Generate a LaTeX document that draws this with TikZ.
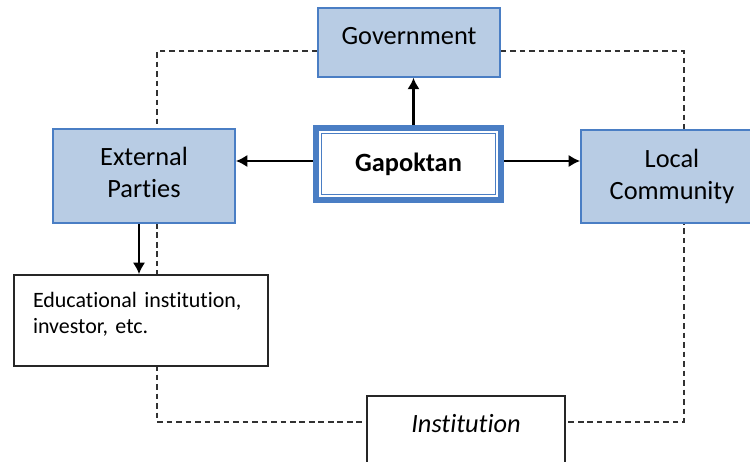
\documentclass[tikz,border=0pt]{standalone}
\usepackage{fontspec}
\setmainfont{Carlito}[Ligatures=NoCommon]
\usetikzlibrary{arrows.meta,positioning,backgrounds}
\definecolor{boxblue}{RGB}{184,204,228}
\definecolor{lineblue}{RGB}{74,126,196}
\definecolor{dashgray}{RGB}{50,50,50}

\tikzset{
  bluebox/.style={draw=lineblue,fill=boxblue,line width=1pt,align=center,inner sep=0pt,
    font=\fontsize{15}{18}\selectfont},
  plainbox/.style={draw=black!85,fill=white,line width=1pt,inner sep=0pt},
  arr/.style={line width=1.2pt,-{Latex[length=6.5pt,width=7pt]}},
  link/.style={draw=dashgray,line width=1.3pt,dash pattern=on 3.2pt off 2.2pt}
}

\begin{document}
\begin{tikzpicture}[x=0.02cm,y=-0.02cm]
  \useasboundingbox (0,0) rectangle (750,462);
  \clip (0,0) rectangle (750,462);

  % boxes
  \node[bluebox,anchor=north,minimum width=3.64cm,text height=0.73cm,text depth=0.65cm] (gov) at (409,7) {Government};
  \node[draw=lineblue,line width=0.12cm,fill=white,minimum width=3.7cm,minimum height=1.44cm,inner sep=0pt,
    font=\fontsize{15}{18}\selectfont\bfseries] (gap) at (408.5,164) {Gapoktan};
  \draw[lineblue,line width=0.7pt] ([shift={(8.5,8.5)}]gap.north west) rectangle ([shift={(-8.5,-8.5)}]gap.south east);
  \node[bluebox,minimum width=3.64cm,minimum height=1.88cm,text height=1.1cm,text depth=0.25cm] (ext) at (144,176) {External\\Parties};
  \node[bluebox,minimum width=3.64cm,minimum height=1.86cm] (loc) at (672,176.5) {Local\\Community};
  \node[plainbox,minimum width=5.08cm,minimum height=1.82cm,text width=4.32cm,align=left,text height=0.35cm,text depth=0.89cm,
    font=\fontsize{12.5}{15}\selectfont] (edu) at (141,320.5) {Educational institution,\\investor, etc.};
  \node[plainbox,anchor=north,minimum width=3.96cm,text height=0.73cm,text depth=0.87cm,
    font=\fontsize{15}{18}\selectfont\itshape] (inst) at (466,395) {Institution};

  % dashed links behind the boxes
  \begin{scope}[on background layer]
    \coordinate (tl) at (157,51);
    \coordinate (tr) at (684,51);
    \coordinate (bl) at (157,422);
    \coordinate (br) at (684,422);
    \draw[link] (gov.west |- tl) -- (tl) -- (bl) -- (inst.west |- bl);
    \draw[link] (gov.east |- tr) -- (tr) -- (br) -- (inst.east |- br);
  \end{scope}

  % arrows
  \draw[arr] ([xshift=0.1cm]gap.north) -- ([xshift=0.1cm]gap.north |- gov.south);
  \draw[arr] ([yshift=0.06cm]gap.west) -- ([yshift=0.06cm]gap.west -| ext.east);
  \draw[arr] ([yshift=0.06cm]gap.east) -- ([yshift=0.06cm]gap.east -| loc.west);
  \draw[arr] ([xshift=-0.1cm]ext.south) -- ([xshift=-0.1cm]ext.south |- edu.north);
\end{tikzpicture}
\end{document}
